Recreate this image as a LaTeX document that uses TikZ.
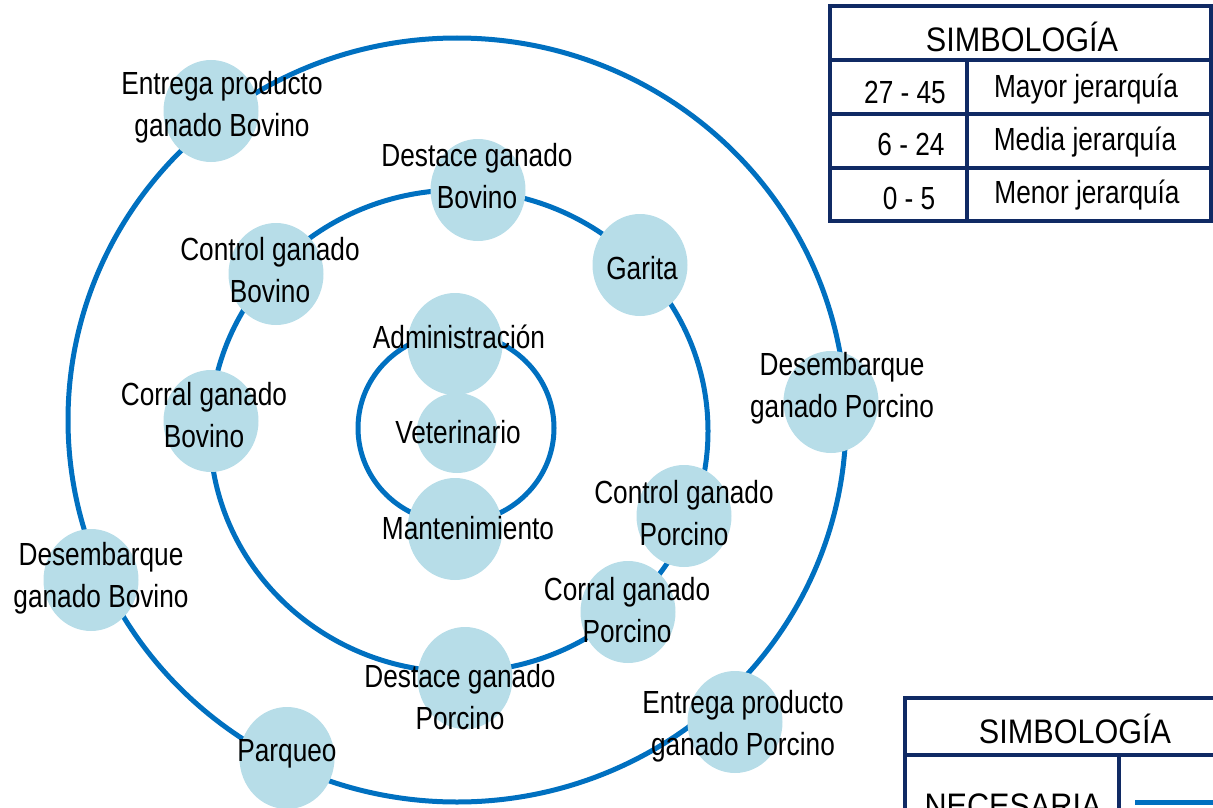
\documentclass[tikz,border=0pt]{standalone}
\usepackage{fontspec}
\setmainfont{Liberation Sans}[FakeStretch=0.82]
\newfontfamily\headfont{Liberation Sans}[FakeStretch=0.9]
\usetikzlibrary{shapes.geometric}
\definecolor{ringblue}{RGB}{0,112,192}
\definecolor{bub}{RGB}{183,221,232}
\definecolor{navy}{RGB}{16,42,100}
\tikzset{
  ring/.style={draw=ringblue, line width=5pt},
  bubble/.style={ellipse, fill=bub, draw=none, minimum width=95pt, minimum height=102pt, inner sep=0pt},
  smallbubble/.style={bubble, minimum width=81pt, minimum height=80pt},
  lbl/.style={align=center, inner sep=0pt, font=\fontsize{32}{42}\selectfont},
  tbl/.style={draw=navy, line width=3.5pt},
  tbltxt/.style={inner sep=0pt, anchor=base, font=\fontsize{32}{38}\selectfont},
  tblhead/.style={inner sep=0pt, anchor=base, font=\headfont\fontsize{34}{40}\selectfont},
}
\begin{document}
\begin{tikzpicture}[x=1pt, y=-1pt]
\useasboundingbox (0,0) rectangle (1213,808);
\clip (0,0) rectangle (1213,808);
% ring centres
\coordinate (oc) at (457,420);
\coordinate (mc) at (459,431);
\coordinate (ic) at (456,428);
% rings
\draw[ring] (oc) ellipse [x radius=389pt, y radius=382pt];
\draw[ring] (mc) ellipse [x radius=249pt, y radius=241pt];
\draw[ring] (ic) ellipse [x radius=98pt, y radius=95pt];
% bubbles
\node[bubble] (b1) at (211,111) {};
\node[bubble] (b2) at (478,190) {};
\node[bubble] (b3) at (640,265) {};
\node[bubble] (b4) at (276,274) {};
\node[bubble] (b5) at (831,402) {};
\node[bubble] (b6) at (455,344) {};
\node[bubble] (b7) at (211,421) {};
\node[smallbubble] (b8) at (457,433) {};
\node[bubble] (b9) at (455,529) {};
\node[bubble] (b10) at (684,516) {};
\node[bubble] (b11) at (91,580) {};
\node[bubble] (b12) at (628,612) {};
\node[bubble] (b13) at (465,678) {};
\node[bubble] (b14) at (735,722) {};
\node[bubble] (b15) at (287,758) {};
% labels
\node[lbl] (t1) at (222,107) {Entrega producto\\ganado Bovino};
\node[lbl] (t2) at (477,176) {Destace ganado\\Bovino};
\node[lbl] (t3) at (642,268) {Garita};
\node[lbl] (t4) at (270,270) {Control ganado\\Bovino};
\node[lbl] (t5) at (842,388) {Desembarque\\ganado Porcino};
\node[lbl] (t6) at (459,337) {Administración};
\node[lbl] (t7) at (204,415) {Corral ganado\\Bovino};
\node[lbl] (t8) at (458,432) {Veterinario};
\node[lbl] (t9) at (468,528) {Mantenimiento};
\node[lbl] (t10) at (684,513) {Control ganado\\Porcino};
\node[lbl] (t11) at (101,578) {Desembarque\\ganado Bovino};
\node[lbl] (t12) at (627,610) {Corral ganado\\Porcino};
\node[lbl] (t13) at (460,697) {Destace ganado\\Porcino};
\node[lbl] (t14) at (743,726) {Entrega producto\\ganado Porcino};
\node[lbl] (t15) at (287,754) {Parqueo};
% top legend table
\draw[tbl] (830,6) rectangle (1211,221);
\draw[tbl] (830,60) -- (1211,60);
\draw[tbl] (830,114) -- (1211,114);
\draw[tbl] (830,168) -- (1211,168);
\draw[tbl] (967,60) -- (967,221);
\node[tblhead] (h1) at (1022,52) {SIMBOLOGÍA};
\node[tbltxt] (n1) at (905,103) {27 - 45};
\node[tbltxt] (n2) at (911,155) {6 - 24};
\node[tbltxt] (n3) at (909,209) {0 - 5};
\node[tbltxt] (m1) at (1086,97) {Mayor jerarquía};
\node[tbltxt] (m2) at (1085,150) {Media jerarquía};
\node[tbltxt] (m3) at (1087,203) {Menor jerarquía};
% bottom legend table
\draw[tbl] (905,830) -- (905,698) -- (1230,698);
\draw[tbl] (905,755) -- (1230,755);
\draw[tbl] (1119,753) -- (1119,830);
\node[tblhead] (h2) at (1075,743) {SIMBOLOGÍA};
\node[tblhead] (nec) at (1013,817) {NECESARIA};
\coordinate (ls) at (1135,802);
\coordinate (le) at (1230,802);
\draw[draw=ringblue, line width=5pt] (ls) -- (le);
\end{tikzpicture}
\end{document}
